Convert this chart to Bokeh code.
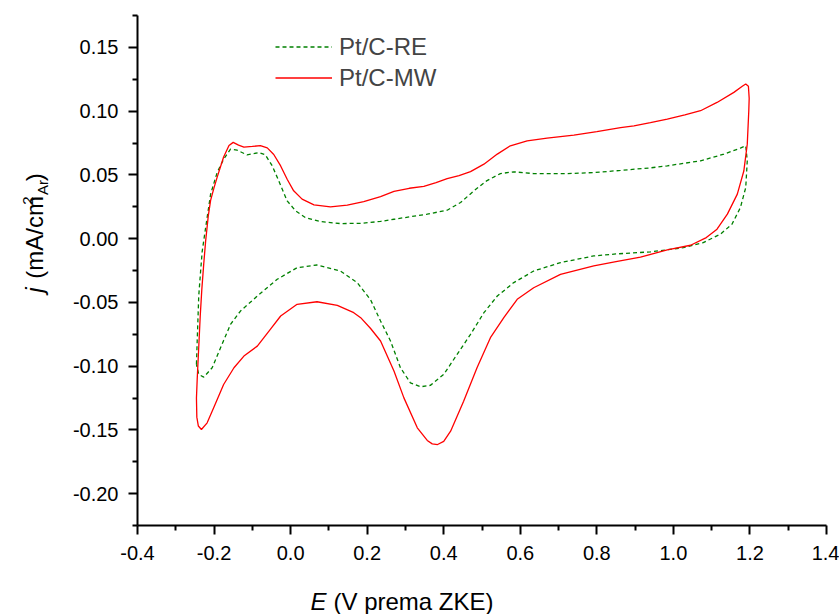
import math
from bokeh.plotting import figure
from bokeh.layouts import row, column
from bokeh.models import Range1d, FixedTicker, PrintfTickFormatter
from bokeh.core.properties import value
from bokeh.embed import file_html
from bokeh.resources import INLINE

# ---- data ----
# Pt/C-MW (red, solid) closed cyclic voltammogram
E_mw = [-0.246, -0.244, -0.240, -0.236, -0.232, -0.227, -0.222, -0.215, -0.209, -0.200,
        -0.192, -0.175, -0.161, -0.150, -0.136, -0.122, -0.100, -0.079, -0.061, -0.044,
        -0.026, -0.009, 0.008, 0.030, 0.061, 0.104, 0.148, 0.191, 0.235, 0.270,
        0.310, 0.348, 0.380, 0.409, 0.440, 0.470, 0.505, 0.540, 0.574, 0.618,
        0.670, 0.740, 0.800, 0.862, 0.897, 0.940, 0.984, 1.030, 1.071, 1.114,
        1.158, 1.180, 1.189, 1.196, 1.198, 1.197, 1.193, 1.184, 1.167, 1.141,
        1.114, 1.086, 1.045, 0.984, 0.914, 0.850, 0.792, 0.705, 0.635, 0.592,
        0.557, 0.522, 0.487, 0.452, 0.418, 0.400, 0.384, 0.370, 0.357, 0.331,
        0.296, 0.270, 0.235, 0.209, 0.183, 0.165, 0.122, 0.069, 0.017, -0.026,
        -0.053, -0.087, -0.122, -0.148, -0.175, -0.201, -0.218, -0.233, -0.241, -0.245,
        -0.246]
j_mw = [-0.125, -0.110, -0.085, -0.060, -0.040, -0.020, -0.002, 0.018, 0.030, 0.040,
        0.048, 0.064, 0.073, 0.0755, 0.0733, 0.0718, 0.0723, 0.0730, 0.0712, 0.066,
        0.057, 0.0466, 0.0375, 0.031, 0.0265, 0.0249, 0.0262, 0.029, 0.033, 0.037,
        0.0395, 0.041, 0.044, 0.0471, 0.0495, 0.0525, 0.0584, 0.0663, 0.0728, 0.0767,
        0.0788, 0.0812, 0.084, 0.087, 0.0885, 0.091, 0.0938, 0.097, 0.1003, 0.1068,
        0.1147, 0.1195, 0.1213, 0.1195, 0.110, 0.1003, 0.0741, 0.053, 0.0349, 0.0192,
        0.0074, 0.0008, -0.0052, -0.0089, -0.0145, -0.018, -0.0214, -0.028, -0.0385, -0.0476,
        -0.062, -0.0777, -0.1013, -0.1275, -0.151, -0.159, -0.1615, -0.161, -0.1583, -0.1484,
        -0.1249, -0.1039, -0.0803, -0.0705, -0.062, -0.0581, -0.0523, -0.0495, -0.0515, -0.0607,
        -0.0712, -0.0843, -0.0921, -0.1013, -0.1144, -0.1327, -0.1445, -0.1497, -0.147, -0.140,
        -0.125]

# Pt/C-RE (green, dashed) closed cyclic voltammogram
E_re = [-0.246, -0.244, -0.240, -0.235, -0.231, -0.222, -0.209, -0.192, -0.175, -0.157,
        -0.140, -0.114, -0.083, -0.066, -0.048, -0.031, -0.009, 0.013, 0.039, 0.078,
        0.130, 0.183, 0.235, 0.270, 0.357, 0.409, 0.444, 0.479, 0.512, 0.548,
        0.583, 0.635, 0.722, 0.792, 0.862, 0.940, 0.984, 1.071, 1.132, 1.175,
        1.189, 1.193, 1.189, 1.175, 1.153, 1.123, 1.078, 1.026, 0.940, 0.850,
        0.792, 0.705, 0.635, 0.583, 0.540, 0.505, 0.470, 0.435, 0.400, 0.365,
        0.339, 0.313, 0.287, 0.261, 0.235, 0.209, 0.174, 0.130, 0.069, 0.017,
        -0.035, -0.087, -0.131, -0.157, -0.183, -0.205, -0.227, -0.240, -0.246]
j_re = [-0.0986, -0.080, -0.045, -0.025, -0.010, 0.0086, 0.0349, 0.0518, 0.0623, 0.0702,
        0.0694, 0.0657, 0.0675, 0.0657, 0.0571, 0.0453, 0.0296, 0.0218, 0.0165, 0.0134,
        0.0118, 0.012, 0.0135, 0.0152, 0.0192, 0.0223, 0.0283, 0.0375, 0.0453, 0.051,
        0.0524, 0.051, 0.051, 0.0518, 0.0535, 0.0555, 0.0571, 0.061, 0.0663, 0.071,
        0.0728, 0.061, 0.040, 0.0243, 0.0113, 0.0035, -0.0031, -0.0071, -0.0104, -0.012,
        -0.0136, -0.0188, -0.0254, -0.0345, -0.045, -0.0581, -0.0751, -0.0908, -0.1065, -0.1151,
        -0.1162, -0.1131, -0.1013, -0.0803, -0.0646, -0.048, -0.0345, -0.0254, -0.0207, -0.0228,
        -0.0319, -0.045, -0.0568, -0.0672, -0.0856, -0.1013, -0.1086, -0.1065, -0.0986]

series_names = ["Pt/C-RE", "Pt/C-MW"]
x_ticks = [-0.4, -0.2, 0.0, 0.2, 0.4, 0.6, 0.8, 1.0, 1.2, 1.4]
x_minor = [-0.3, -0.1, 0.1, 0.3, 0.5, 0.7, 0.9, 1.1, 1.3]
y_ticks = [-0.20, -0.15, -0.10, -0.05, 0.0, 0.05, 0.10, 0.15]
y_minor = [-0.225, -0.175, -0.125, -0.075, -0.025, 0.025, 0.075, 0.125, 0.175]
x_title = ["E", "(V prema ZKE)"]
y_title = ["j", "(mA/cm", "2", "Ar", ")"]

FONT = "Liberation Sans"
W, H = 839, 614
LEFT_W = 62          # width of the strip holding the y title
TOP_H = 585          # height of the row (y-title strip + main chart)
MID = 0.35           # em-box centre above the baseline (fraction of font size)

# ---------------- main chart ----------------
p = figure(frame_width=689, frame_height=510,
           x_range=Range1d(-0.4, 1.4), y_range=Range1d(-0.225, 0.175),
           output_backend="svg", toolbar_location=None,
           min_border_left=137 - LEFT_W, min_border_right=W - 137 - 689,
           min_border_top=15, min_border_bottom=TOP_H - 15 - 510,
           background_fill_color="white", border_fill_color="white")
p.outline_line_color = None
p.grid.visible = False

p.line(E_re, j_re, line_color="#008000", line_width=1.3, line_dash="4 3",
       legend_label=series_names[0])
p.line(E_mw, j_mw, line_color="#ff0000", line_width=1.3,
       legend_label=series_names[1])

p.xaxis.ticker = FixedTicker(ticks=x_ticks, minor_ticks=x_minor)
p.yaxis.ticker = FixedTicker(ticks=y_ticks, minor_ticks=y_minor)
p.xaxis.formatter = PrintfTickFormatter(format="%.1f")
p.yaxis.formatter = PrintfTickFormatter(format="%.2f")

for ax in (p.xaxis[0], p.yaxis[0]):
    ax.axis_line_width = 2
    ax.axis_line_color = "black"
    ax.major_tick_line_width = 2
    ax.minor_tick_line_width = 2
    ax.major_tick_line_color = "black"
    ax.minor_tick_line_color = "black"
    ax.major_tick_in = 0
    ax.minor_tick_in = 0
    ax.major_tick_out = 9
    ax.minor_tick_out = 5
    ax.major_label_text_font = FONT
    ax.major_label_text_font_size = "20px"
    ax.major_label_text_color = "black"
p.yaxis.major_label_standoff = 10
p.xaxis.major_label_standoff = 11

lg = p.legend[0]
lg.location = (138, 432)
lg.border_line_color = None
lg.background_fill_alpha = 0
lg.padding = 0
lg.margin = 0
lg.spacing = 0
lg.glyph_width = 57
lg.glyph_height = 31
lg.label_height = 31
lg.label_standoff = 7
lg.label_text_font = FONT
lg.label_text_font_size = "24px"


def strip(width, height, x0, page_top):
    """A blank figure whose data coordinates equal page pixels (y measured up from page bottom)."""
    f = figure(width=width, height=height, output_backend="svg", toolbar_location=None,
               x_range=Range1d(x0, x0 + width),
               y_range=Range1d(H - page_top - height, H - page_top),
               x_axis_location=None, y_axis_location=None, min_border=0,
               min_border_left=0, min_border_right=0, min_border_top=0, min_border_bottom=0,
               background_fill_color="white", border_fill_color="white")
    f.outline_line_color = None
    f.grid.visible = False
    return f


def put_h(f, x, baseline_y, text, size=24, style="normal"):
    # horizontal text; anchor at em-box centre
    f.text(x=[x], y=[H - (baseline_y - MID * size)], text=[text],
           text_font=value(FONT), text_font_size=f"{size}px", text_font_style=style,
           text_align="left", text_baseline="middle", text_color="black")


def put_v(f, baseline_x, start_y, text, size=24, style="normal"):
    # text rotated 90 deg (reads bottom to top); glyph tops point left
    f.text(x=[baseline_x - MID * size], y=[H - start_y], text=[text], angle=math.pi / 2,
           text_font=value(FONT), text_font_size=f"{size}px", text_font_style=style,
           text_align="left", text_baseline="middle", text_color="black")


# ---------------- y title strip (left of main chart) ----------------
fy = strip(LEFT_W, TOP_H, 0, 0)
put_v(fy, 42, 318, y_title[0], style="italic")
put_v(fy, 42, 302, y_title[1])
put_v(fy, 33, 217, y_title[2], size=15)
put_v(fy, 47.5, 206, y_title[3], size=15)
put_v(fy, 42, 190, y_title[4])

# ---------------- x title strip (full width, below) ----------------
fx = strip(W, H - TOP_H, 0, TOP_H)
put_h(fx, 310, 609, x_title[0], style="italic")
put_h(fx, 333, 609, x_title[1])

layout = column(row(fy, p, spacing=0), fx, spacing=0)

open("out.html", "w").write(file_html(layout, INLINE))
